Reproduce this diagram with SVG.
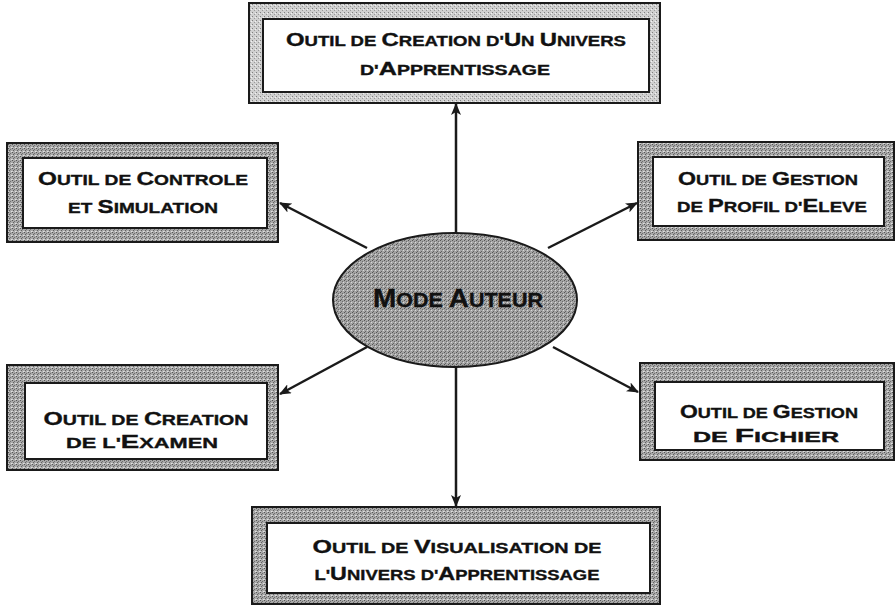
<svg xmlns="http://www.w3.org/2000/svg" width="896" height="605" viewBox="0 0 896 605">
  <defs>
    <pattern id="stip" width="4" height="4" patternUnits="userSpaceOnUse">
      <rect width="4" height="4" fill="#a8a8a8"/>
      <rect x="0" y="0" width="1" height="1" fill="#555555"/>
      <rect x="2" y="1" width="1" height="1" fill="#707070"/>
      <rect x="1" y="2" width="1" height="1" fill="#626262"/>
      <rect x="3" y="3" width="1" height="1" fill="#e0e0e0"/>
      <rect x="0" y="3" width="1" height="1" fill="#d0d0d0"/>
    </pattern>
    <pattern id="stipLight" width="4" height="4" patternUnits="userSpaceOnUse">
      <rect width="4" height="4" fill="#d0d0d0"/>
      <rect x="0" y="0" width="1" height="1" fill="#808080"/>
      <rect x="2" y="2" width="1" height="1" fill="#9a9a9a"/>
      <rect x="3" y="1" width="1" height="1" fill="#f2f2f2"/>
    </pattern>
    <pattern id="stipEll" width="4" height="4" patternUnits="userSpaceOnUse">
      <rect width="4" height="4" fill="#a4a4a4"/>
      <rect x="0" y="0" width="1" height="1" fill="#555555"/>
      <rect x="2" y="1" width="1" height="1" fill="#6c6c6c"/>
      <rect x="1" y="3" width="1" height="1" fill="#626262"/>
      <rect x="3" y="2" width="1" height="1" fill="#d8d8d8"/>
    </pattern>
    <marker id="arr" viewBox="0 0 12 10" refX="11" refY="5" markerWidth="12" markerHeight="10" markerUnits="userSpaceOnUse" orient="auto">
      <path d="M0,0 L12,5 L0,10 L3,5 z" fill="#1a1a1a"/>
    </marker>
    <style>
      .frame { fill: url(#stip); stroke: #1a1a1a; stroke-width: 2; }
      .frameL { fill: url(#stipLight); stroke: #1a1a1a; stroke-width: 2; }
      .inner { fill: #ffffff; stroke: #1a1a1a; stroke-width: 2; }
      .t { font-family: "Liberation Sans", Arial, sans-serif; font-weight: bold; fill: #111; stroke: #111; stroke-width: 0.35; font-size: 15px; text-anchor: middle; }
      .B { font-size: 19px; }
      .tt { font-size: 14px; }
      .tt .B { font-size: 18px; }
      .e { font-size: 20px; }
      .e .B { font-size: 26px; }
      .conn { stroke: #1a1a1a; stroke-width: 2.5; fill: none; marker-end: url(#arr); }
    </style>
  </defs>
  <rect width="896" height="605" fill="#ffffff"/>

  <g id="connectors">
    <line class="conn" x1="456" y1="234" x2="456" y2="104"/>
    <line class="conn" x1="367" y1="248" x2="280" y2="203"/>
    <line class="conn" x1="548" y1="248" x2="637" y2="203"/>
    <line class="conn" x1="367" y1="347" x2="280" y2="394"/>
    <line class="conn" x1="553" y1="347" x2="638" y2="392"/>
    <line class="conn" x1="456" y1="367" x2="456" y2="506"/>
  </g>

  <g id="node-top">
    <rect class="frameL" x="249" y="3" width="411" height="100"/>
    <rect class="inner" x="263" y="19" width="386" height="73"/>
    <text class="t tt" x="456" y="46" textLength="340" lengthAdjust="spacingAndGlyphs"><tspan class="B">O</tspan>UTIL DE <tspan class="B">C</tspan>REATION D'<tspan class="B">U</tspan>N <tspan class="B">U</tspan>NIVERS</text>
    <text class="t tt" x="455" y="75" textLength="190" lengthAdjust="spacingAndGlyphs">D'<tspan class="B">A</tspan>PPRENTISSAGE</text>
  </g>

  <g id="node-controle">
    <rect class="frame" x="7" y="143" width="271" height="99"/>
    <rect class="inner" x="23" y="158" width="244" height="70"/>
    <text class="t" x="143" y="185" textLength="210" lengthAdjust="spacingAndGlyphs"><tspan class="B">O</tspan>UTIL DE <tspan class="B">C</tspan>ONTROLE</text>
    <text class="t" x="143" y="213" textLength="150" lengthAdjust="spacingAndGlyphs">ET <tspan class="B">S</tspan>IMULATION</text>
  </g>

  <g id="node-profil">
    <rect class="frame" x="638" y="142" width="256" height="98"/>
    <rect class="inner" x="653" y="157" width="231" height="69"/>
    <text class="t" x="768" y="185" textLength="180" lengthAdjust="spacingAndGlyphs"><tspan class="B">O</tspan>UTIL DE <tspan class="B">G</tspan>ESTION</text>
    <text class="t" x="772" y="212" textLength="190" lengthAdjust="spacingAndGlyphs">DE <tspan class="B">P</tspan>ROFIL D'<tspan class="B">E</tspan>LEVE</text>
  </g>

  <g id="node-examen">
    <rect class="frame" x="7" y="365" width="271" height="105"/>
    <rect class="inner" x="25" y="383" width="242" height="76"/>
    <text class="t" x="146" y="425" textLength="205" lengthAdjust="spacingAndGlyphs"><tspan class="B">O</tspan>UTIL DE <tspan class="B">C</tspan>REATION</text>
    <text class="t" x="142" y="448" textLength="152" lengthAdjust="spacingAndGlyphs">DE L'<tspan class="B">E</tspan>XAMEN</text>
  </g>

  <g id="node-fichier">
    <rect class="frame" x="640" y="363" width="254" height="97"/>
    <rect class="inner" x="655" y="382" width="229" height="68"/>
    <text class="t" x="769" y="418" textLength="178" lengthAdjust="spacingAndGlyphs"><tspan class="B">O</tspan>UTIL DE <tspan class="B">G</tspan>ESTION</text>
    <text class="t" x="766" y="442" textLength="146" lengthAdjust="spacingAndGlyphs">DE <tspan class="B">F</tspan>ICHIER</text>
  </g>

  <g id="node-visualisation">
    <rect class="frame" x="252" y="507" width="408" height="97"/>
    <rect class="inner" x="267" y="523" width="383" height="70"/>
    <text class="t" x="457" y="553" textLength="289" lengthAdjust="spacingAndGlyphs"><tspan class="B">O</tspan>UTIL DE <tspan class="B">V</tspan>ISUALISATION DE</text>
    <text class="t" x="457" y="580" textLength="285" lengthAdjust="spacingAndGlyphs">L'<tspan class="B">U</tspan>NIVERS D'<tspan class="B">A</tspan>PPRENTISSAGE</text>
  </g>

  <g id="node-mode-auteur">
    <ellipse cx="455" cy="300" rx="122" ry="67" fill="url(#stipEll)" stroke="#1a1a1a" stroke-width="2"/>
    <text class="t e" x="458" y="307" textLength="170" lengthAdjust="spacingAndGlyphs" stroke-width="0.6"><tspan class="B">M</tspan>ODE <tspan class="B">A</tspan>UTEUR</text>
  </g>
</svg>
